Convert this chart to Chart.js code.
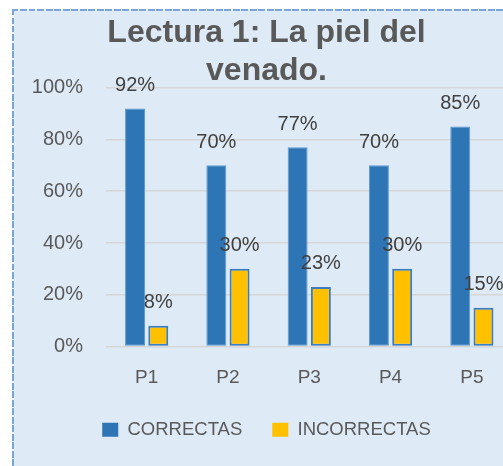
<!DOCTYPE html>
<html><head><meta charset="utf-8">
<script src="https://cdn.jsdelivr.net/npm/chart.js@4/dist/chart.umd.min.js"></script>
<style>
html,body{margin:0;padding:0;width:503px;height:466px;overflow:hidden;background:#fff;}
#bg{position:absolute;left:12px;top:9px;width:600px;height:500px;background:#DEEAF6;}
#bt{position:absolute;left:12px;top:9px;width:600px;height:2px;background:repeating-linear-gradient(to right,#78A6D9 0 6.5px,#EEF3FA 6.5px 8.5px);}
#bl{position:absolute;left:12px;top:9px;width:2px;height:500px;background:repeating-linear-gradient(to bottom,#78A6D9 0 6.5px,#EEF3FA 6.5px 8.5px);}
#wrap{position:absolute;left:0;top:0;width:533px;height:466px;}
</style></head>
<body>
<div id="bg"></div><div id="bt"></div><div id="bl"></div>
<div id="wrap"><canvas id="c" width="533" height="466"></canvas></div>
<script>
const categories = ['P1', 'P2', 'P3', 'P4', 'P5'];
const correctas = [92, 70, 77, 70, 85];
const incorrectas = [8, 30, 23, 30, 15];
const seriesNames = ['CORRECTAS', 'INCORRECTAS'];
const titleLines = ['Lectura 1: La piel del', 'venado.'];
const yMin = 0, yMax = 100, yStep = 20;

const FONT = '"Liberation Sans", Arial, sans-serif';

const valueLabels = {
  id: 'valueLabels',
  afterDatasetsDraw(chart) {
    const ctx = chart.ctx;
    ctx.save();
    ctx.font = '20px ' + FONT;
    ctx.fillStyle = '#404040';
    ctx.textAlign = 'center';
    ctx.textBaseline = 'alphabetic';
    chart.data.datasets.forEach((ds, i) => {
      chart.getDatasetMeta(i).data.forEach((bar, j) => {
        ctx.fillText(ds.data[j] + '%', bar.x, bar.y - 17.5);
      });
    });
    ctx.restore();
  }
};

new Chart(document.getElementById('c'), {
  type: 'bar',
  data: {
    labels: categories,
    datasets: [
      { label: seriesNames[0], data: correctas, backgroundColor: '#2E75B6', borderColor: '#5B9BD5', borderWidth: 1, borderSkipped: false },
      { label: seriesNames[1], data: incorrectas, backgroundColor: '#FFC000', borderColor: '#3A7CC0', borderWidth: 2, borderSkipped: false }
    ]
  },
  options: {
    responsive: false,
    animation: false,
    layout: { padding: { left: 20.5, right: 20.5, top: 0, bottom: 17 } },
    datasets: { bar: { categoryPercentage: 0.572, barPercentage: 0.858 } },
    plugins: {
      title: {
        display: true,
        text: titleLines,
        color: '#595959',
        font: { family: FONT, size: 32, weight: 'bold', lineHeight: 1.16 },
        padding: { top: 15, bottom: -1.5 }
      },
      legend: {
        position: 'bottom',
        labels: {
          color: '#595959',
          font: { family: FONT, size: 18.5 },
          boxWidth: 16, boxHeight: 14,
          padding: 30,
          generateLabels(chart) {
            return Chart.defaults.plugins.legend.labels.generateLabels(chart).map(l => Object.assign(l, { lineWidth: 0 }));
          }
        }
      },
      tooltip: { enabled: false }
    },
    scales: {
      x: {
        grid: { display: false, drawTicks: false },
        border: { display: false },
        ticks: { color: '#595959', font: { family: FONT, size: 19 }, padding: 20 },
        afterFit(s) { s.height = 44; }
      },
      y: {
        min: yMin, max: yMax,
        grid: { color: '#D6D6D6', lineWidth: 1.5, drawTicks: false },
        border: { display: false },
        ticks: { stepSize: yStep, color: '#595959', font: { family: FONT, size: 20 }, padding: 23, callback: v => v + '%' },
        afterFit(s) { s.width = 85.5; }
      }
    }
  },
  plugins: [valueLabels]
});
</script>
</body></html>
